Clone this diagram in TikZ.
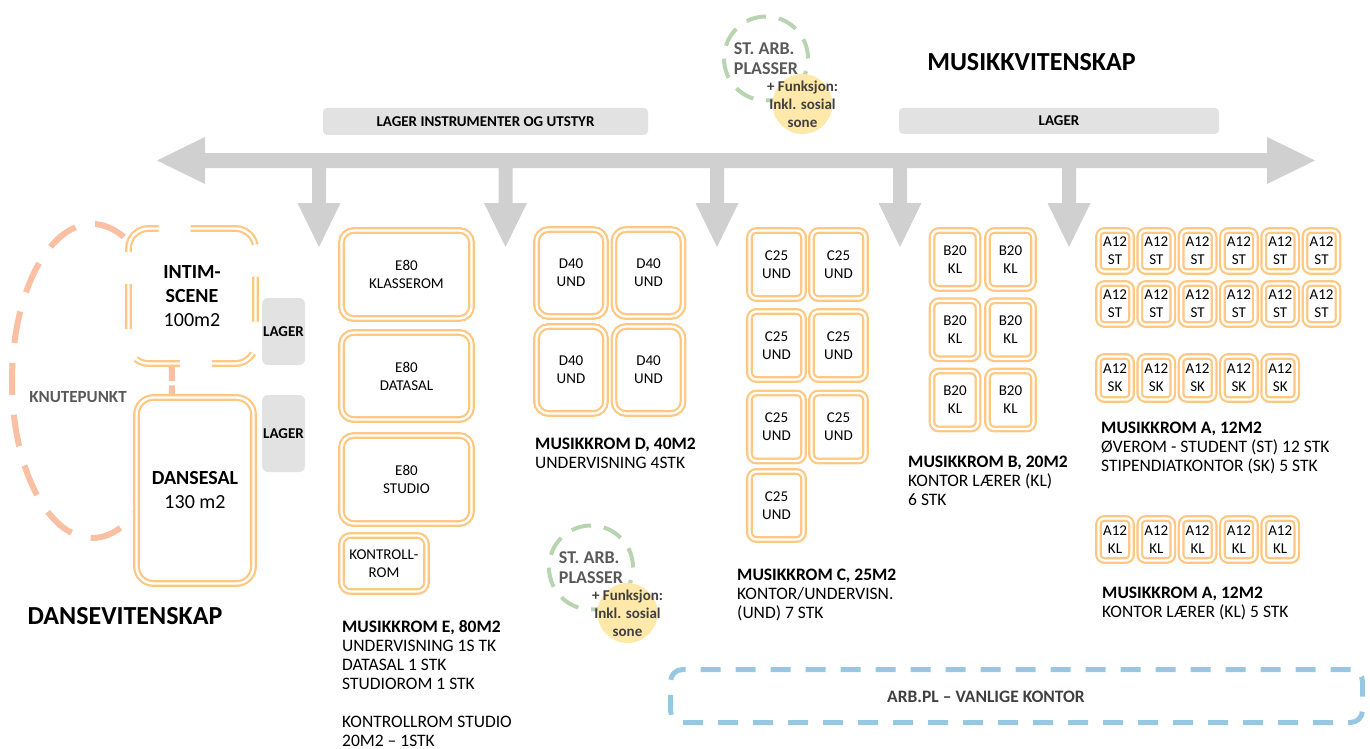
\documentclass[tikz,border=0pt]{standalone}
\usepackage{fontspec}
\setmainfont{Carlito}

\definecolor{roomorange}{RGB}{255,199,128}
\definecolor{knutesalmon}{RGB}{250,192,164}
\definecolor{arbgreen}{RGB}{184,212,176}
\definecolor{sosialyellow}{RGB}{255,233,170}
\definecolor{arrowgray}{RGB}{208,208,208}
\definecolor{lagergray}{RGB}{226,226,226}
\definecolor{kontorblue}{RGB}{150,200,226}
\definecolor{textgray}{RGB}{89,89,89}
\definecolor{darktext}{RGB}{64,64,64}

\tikzset{
  roombox/.style={draw=roomorange, double=white, line width=2.2pt, double distance=2.4pt, fill=white, align=center, inner sep=0pt, font=\fontsize{15}{18}\selectfont},
  bigroom/.style={roombox, rounded corners=12pt},
  smallroom/.style={roombox, rounded corners=7pt},
  lagerbar/.style={fill=lagergray, rounded corners=4pt, inner sep=0pt, font=\bfseries\fontsize{15}{18}\selectfont},
  roominfo/.style={anchor=north west, align=left, inner sep=0pt, font=\fontsize{17.5}{19}\selectfont},
  fagtitle/.style={inner sep=0pt, font=\bfseries\fontsize{26}{30}\selectfont},
}

\begin{document}
\begin{tikzpicture}[x=1pt, y=-1pt]
    \useasboundingbox (0,0) rectangle (1370,749);

    % gangakse med piler ned
    \fill[arrowgray] (157,160.5) -- (205,137) -- (205,153) -- (1267,153) -- (1267,137) -- (1315,160.5) -- (1267,184) -- (1267,168) -- (205,168) -- (205,184) -- cycle;
    \foreach \x in {319,505.5,717,900,1069}
        \fill[arrowgray] (\x-7,167) -- (\x+7,167) -- (\x+7,203) -- (\x+21.5,203) -- (\x,247) -- (\x-21.5,203) -- (\x-7,203) -- cycle;

    \node[lagerbar, minimum width=325pt, minimum height=27pt] (lager-instr) at (485.5,121.5) {LAGER INSTRUMENTER OG UTSTYR};
    \node[lagerbar, minimum width=320pt, minimum height=26pt] (lager-musikk) at (1059,121) {LAGER};

    % dans
    \draw[knutesalmon, line width=6pt, dash pattern=on 32pt off 20pt] (92,381) ellipse [x radius=80pt, y radius=157pt];
    \node[roombox, dash pattern=on 45pt off 32pt, rounded corners=20pt, minimum width=127pt, minimum height=135pt, font=\fontsize{20}{24}\selectfont] (intim) at (192,296) {\textbf{INTIM-}\\\textbf{SCENE}\\100m2};
    \node[roombox, rounded corners=17pt, minimum width=117pt, minimum height=186pt, font=\fontsize{20}{24}\selectfont] (dansesal) at (195,490.5) {\textbf{DANSESAL}\\130 m2};
    \node[lagerbar, rounded corners=6pt, minimum width=43pt, minimum height=67pt] (lager-intim) at (283.5,331.5) {LAGER};
    \node[lagerbar, rounded corners=6pt, minimum width=43pt, minimum height=77pt] (lager-dans) at (283.5,433.5) {LAGER};
    \node[inner sep=0pt, text=textgray, font=\bfseries\fontsize{17}{20}\selectfont] (knutepunkt) at (78,397.5) {KNUTEPUNKT};

    % musikkrom E
    \node[bigroom, minimum width=130pt, minimum height=88pt] (e-klasse) at (406.5,274.5) {E80\\KLASSEROM};
    \node[bigroom, minimum width=130pt, minimum height=87pt] (e-data) at (406.5,376) {E80\\DATASAL};
    \node[bigroom, minimum width=130pt, minimum height=88pt] (e-studio) at (406.5,479.5) {E80\\STUDIO};
    \node[bigroom, rounded corners=9pt, minimum width=85pt, minimum height=56pt] (e-kontroll) at (384,563.5) {KONTROLL-\\ROM};

    % musikkrom D og C
    \foreach \c in {0,1}
        \foreach \r in {0,1}
            \node[bigroom, minimum width=69pt, minimum height=87pt] (d-\r\c) at (571+77.5*\c, 273+97*\r) {D40\\UND};
    \foreach \x/\y [count=\i] in {776.5/264.5, 838.5/264.5, 776.5/345.5, 838.5/345.5, 776.5/427, 838.5/427, 776.5/505.5}
        \node[smallroom, minimum width=54pt, minimum height=68pt] (c-\i) at (\x,\y) {C25\\UND};

    % musikkrom B og A
    \foreach \c in {0,1}
        \foreach \r in {0,1,2}
            \node[smallroom, minimum width=46pt, minimum height=58pt] (b-\r\c) at (955+55.5*\c, 259.5+70.25*\r) {B20\\KL};
    \foreach \c in {0,...,5}
        \foreach \r in {0,1}
            \node[smallroom, rounded corners=6pt, minimum width=33pt, minimum height=41pt] (a-st-\r\c) at (1115+41.3*\c, 251+53*\r) {A12\\ST};
    \foreach \c in {0,...,4} {
        \node[smallroom, rounded corners=6pt, minimum width=33pt, minimum height=43pt] (a-sk-\c) at (1115+41.3*\c, 378) {A12\\SK};
        \node[smallroom, rounded corners=6pt, minimum width=33pt, minimum height=42pt] (a-kl-\c) at (1115+41.3*\c, 539.5) {A12\\KL};
    }

    % tekster
    \node[roominfo] (e-info) at (342,620) {\textbf{MUSIKKROM E, 80M2}\\UNDERVISNING 1S TK\\DATASAL 1 STK\\STUDIOROM 1 STK\\[19pt]KONTROLLROM STUDIO\\20M2 -- 1STK};
    \node[roominfo] (d-info) at (535,438) {\textbf{MUSIKKROM D, 40M2}\\UNDERVISNING 4STK};
    \node[roominfo] (c-info) at (737,569) {\textbf{MUSIKKROM C, 25M2}\\KONTOR/UNDERVISN.\\(UND) 7 STK};
    \node[roominfo] (b-info) at (908,456) {\textbf{MUSIKKROM B, 20M2}\\KONTOR LÆRER (KL)\\6 STK};
    \node[roominfo] (a-info) at (1101,422) {\textbf{MUSIKKROM A, 12M2}\\ØVEROM - STUDENT (ST) 12 STK\\STIPENDIATKONTOR (SK) 5 STK};
    \node[roominfo] (a-kl-info) at (1102,587) {\textbf{MUSIKKROM A, 12M2}\\KONTOR LÆRER (KL) 5 STK};

    % arbeidsplasser
    \foreach \gx/\gy/\nm in {766/58.5/top, 591/567.5/bot} {
        \node[circle, draw=arbgreen, line width=4pt, dash pattern=on 20pt off 13pt, minimum size=84pt, inner sep=0pt, align=left, text=textgray, font=\bfseries\fontsize{18}{20}\selectfont] (arb-\nm) at (\gx,\gy) {ST. ARB.\\PLASSER};
        \node[circle, fill=sosialyellow, minimum size=60pt, inner sep=0pt] (sosial-\nm) at (\gx+36.5,\gy+45.5) {};
        \node[inner sep=0pt, align=center, text=darktext, font=\bfseries\fontsize{15}{18}\selectfont] (sosial-tekst-\nm) at (sosial-\nm) {+ Funksjon:\\Inkl. sosial\\sone};
    }

    \node[draw=kontorblue, line width=5pt, dash pattern=on 20pt off 15pt, rounded corners=12pt, minimum width=692pt, minimum height=53pt] (kontor) at (1016.5,696) {};
    \node[inner sep=0pt, text=darktext, font=\bfseries\fontsize{17.5}{20}\selectfont] (kontor-tekst) at (986,696.5) {ARB.PL -- VANLIGE KONTOR};

    \node[fagtitle] (musikk) at (1031.5,62) {MUSIKKVITENSKAP};
    \node[fagtitle] (dans) at (125,616.5) {DANSEVITENSKAP};
\end{tikzpicture}
\end{document}
